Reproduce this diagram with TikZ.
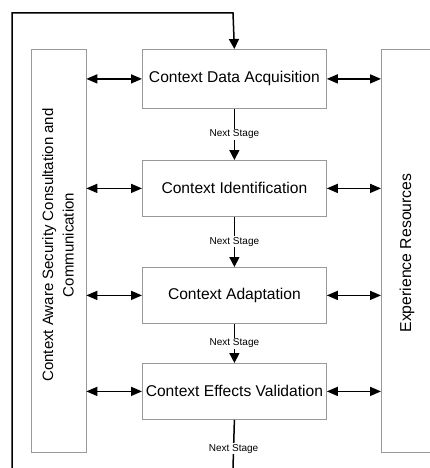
\documentclass[tikz,border=0pt]{standalone}
\usepackage{fontspec}
\setmainfont{Liberation Sans}
\usetikzlibrary{arrows.meta}
\begin{document}
\begin{tikzpicture}[x=1pt,y=-1pt,
  stagebox/.style={draw=black!40, line width=0.8pt, minimum width=184pt, minimum height=56pt, anchor=north west, font=\fontsize{15.6}{18}\selectfont, inner sep=0pt},
  sidepanel/.style={draw=black!40, line width=0.8pt, anchor=north west, inner sep=0pt},
  dbl/.style={{Triangle[width=9pt,length=11pt]}-{Triangle[width=9pt,length=11pt]}, line width=1.5pt},
  flow/.style={line width=1.5pt},
  lbl/.style={font=\fontsize{10}{12}\selectfont, fill=white, inner sep=1pt}]
\useasboundingbox (0,0) rectangle (430,468);
% side panels
\node[sidepanel, minimum width=55pt, minimum height=403pt] (left) at (30.5,49) {};
\node[sidepanel, minimum width=60pt, minimum height=403pt] (right) at (381,49) {};
\node[rotate=90, align=center, font=\fontsize{15}{20.5}\selectfont] (lefttxt) at (58,245) {Context Aware Security Consultation and\\Communication};
\node[rotate=90, font=\fontsize{15.8}{18}\selectfont] (righttxt) at (407,253) {Experience Resources};
% stage boxes
\node[stagebox, minimum height=59pt] (s1) at (142,49) {Context Data Acquisition};
\node[stagebox] (s2) at (142,160) {Context Identification};
\node[stagebox] (s3) at (142,267) {Context Adaptation};
\node[stagebox] (s4) at (142,363) {Context Effects Validation};
% next stage connectors
\draw[flow, -{Triangle[width=10pt,length=10pt]}] (s1) -- node[lbl]{Next Stage} (s2);
\draw[flow, -{Triangle[width=10pt,length=10pt]}] (s2) -- node[lbl]{Next Stage} (s3);
\draw[flow, -{Triangle[width=10pt,length=10pt]}] (s3) -- node[lbl]{Next Stage} (s4);
% feedback loop
\coordinate (bc) at (233,468);
\coordinate (bl) at (12,468);
\coordinate (tl) at (12,13);
\coordinate (tr) at (233,13);
\draw[flow] (s4.south) -- node[lbl, pos=0.6]{Next Stage} (bc);
\draw[flow, -{Triangle[width=10pt,length=10pt]}] (bl) -- (tl) -- (tr) -- (s1.north);
% side arrows
\foreach \s in {s1,s2,s3,s4}{
  \draw[dbl] (left.east |- \s.west) -- (\s.west);
  \draw[dbl] (\s.east) -- (right.west |- \s.east);
}
\end{tikzpicture}
\end{document}
